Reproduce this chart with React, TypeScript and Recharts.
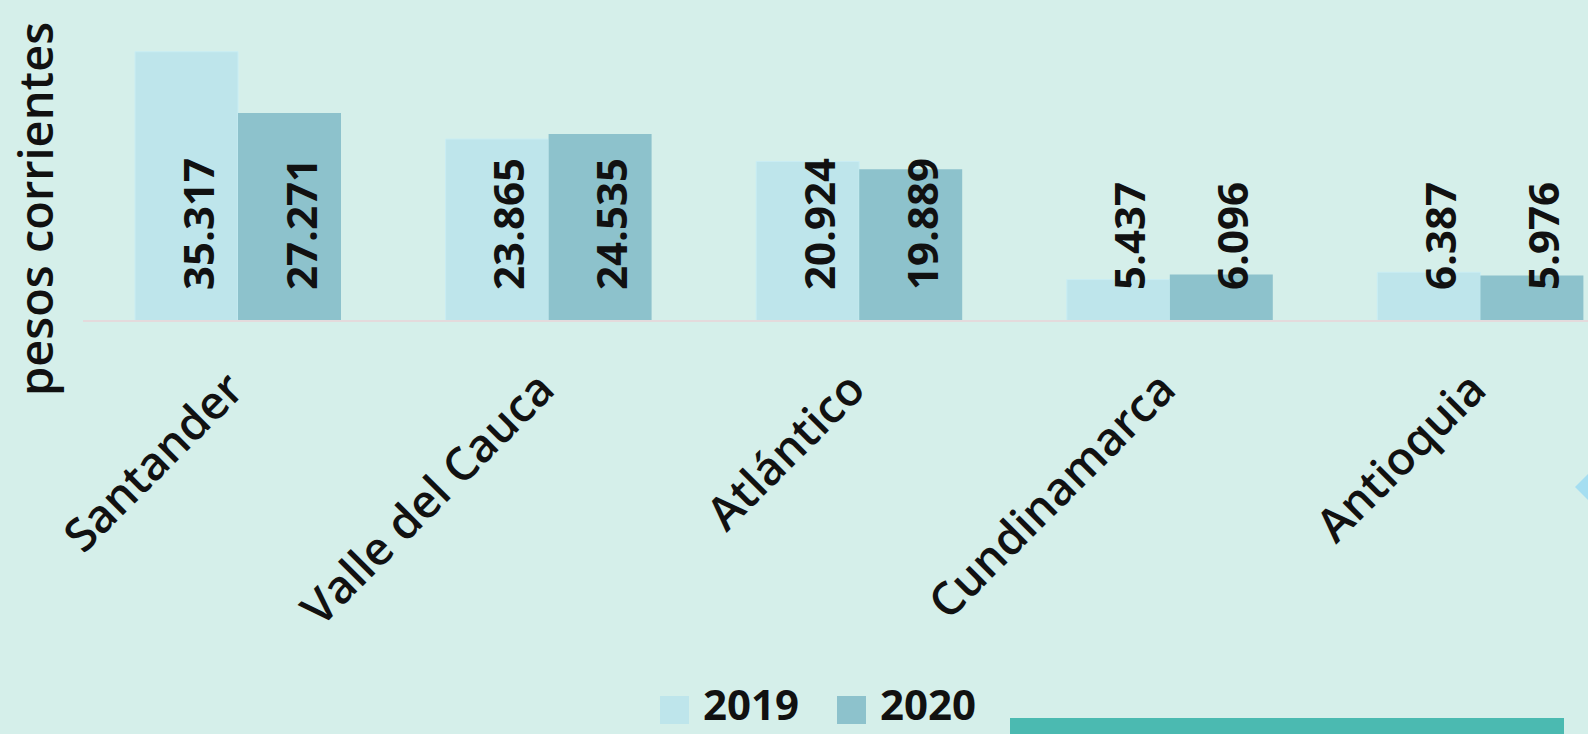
import { BarChart, Bar, XAxis, YAxis, Legend, LabelList } from 'recharts';

const categories = ['Santander', 'Valle del Cauca', 'Atlántico', 'Cundinamarca', 'Antioquia'];
const values2019 = [35317, 23865, 20924, 5437, 6387];
const values2020 = [27271, 24535, 19889, 6096, 5976];
const seriesNames = ['2019', '2020'];
const colors = ['#BEE5EB', '#8DC2CC'];

const data = categories.map((name, i) => ({
  name,
  y2019: values2019[i],
  y2020: values2020[i],
}));

const FONT = '"Open Sans", sans-serif';

// 35317 -> "35.317"
const fmt = (v: number) => String(v).replace(/\B(?=(\d{3})+(?!\d))/g, '.');

function ValueLabel(props: any) {
  const { x, y, width, height, value } = props;
  const px = x + width / 2 + 27;
  const py = y + height - 31;
  return (
    <text
      x={px}
      y={py}
      transform={`rotate(-90 ${px} ${py})`}
      textAnchor="start"
      fontFamily={FONT}
      fontWeight={700}
      fontSize={42}
      fill="#111"
    >
      {fmt(value)}
    </text>
  );
}

function CategoryTick(props: any) {
  const { x, y, payload } = props;
  return (
    <g transform={`translate(${x + 8},${y})`}>
      <text
        x={0}
        y={0}
        dy={63}
        textAnchor="end"
        transform="rotate(-45 0 63)"
        fontFamily={FONT}
        fontWeight={600}
        fontSize={46}
        fill="#111"
      >
        {payload.value}
      </text>
    </g>
  );
}

function LegendBox() {
  return (
    <div style={{ display: 'flex', alignItems: 'flex-start', fontFamily: FONT }}>
      {seriesNames.map((s, i) => (
        <div key={s} style={{ display: 'flex', alignItems: 'flex-start', marginRight: i === 0 ? 38 : 0 }}>
          <div style={{ width: 29, height: 28, marginTop: 13, background: colors[i], marginRight: 14 }} />
          <span style={{ fontSize: 42, fontWeight: 700, lineHeight: '42px', color: '#111' }}>{s}</span>
        </div>
      ))}
    </div>
  );
}

export default function App() {
  return (
    <div
      style={{
        position: 'absolute',
        left: 0,
        top: 0,
        width: 1588,
        height: 734,
        overflow: 'hidden',
        background: '#D5EFEA',
      }}
    >
      <BarChart
        width={1636}
        height={734}
        data={data}
        margin={{ top: 16, right: 0, left: 83, bottom: 0 }}
        barGap={0}
      >
        <XAxis
          dataKey="name"
          interval={0}
          height={371}
          tickLine={false}
          axisLine={{ stroke: '#E4DADC', strokeWidth: 2 }}
          tick={<CategoryTick />}
        />
        <YAxis hide domain={[0, 40000]} />
        <Legend
          verticalAlign="bottom"
          content={<LegendBox />}
          wrapperStyle={{ left: 660, width: 420, bottom: 9, height: 42 }}
        />
        <Bar dataKey="y2019" name="2019" fill={colors[0]} stroke="#C9EDF3" strokeWidth={1} barSize={103} isAnimationActive={false}>
          <LabelList dataKey="y2019" content={<ValueLabel />} />
        </Bar>
        <Bar dataKey="y2020" name="2020" fill={colors[1]} barSize={103} isAnimationActive={false}>
          <LabelList dataKey="y2020" content={<ValueLabel />} />
        </Bar>
      </BarChart>
      <svg width={1588} height={734} style={{ position: 'absolute', left: 0, top: 0, pointerEvents: 'none' }}>
        <text
          x={53}
          y={209}
          transform="rotate(-90 53 209)"
          textAnchor="middle"
          fontFamily={FONT}
          fontWeight={600}
          fontSize={47}
          fill="#111"
        >
          pesos corrientes
        </text>
      </svg>
      <div style={{ position: 'absolute', left: 1010, top: 718, width: 554, height: 16, background: '#4BBAB1' }} />
      <div
        style={{
          position: 'absolute',
          left: 1575,
          top: 469,
          width: 36,
          height: 36,
          background: '#A5DEF1',
          clipPath: 'polygon(0 50%, 50% 0, 100% 50%, 50% 100%)',
        }}
      />
    </div>
  );
}
